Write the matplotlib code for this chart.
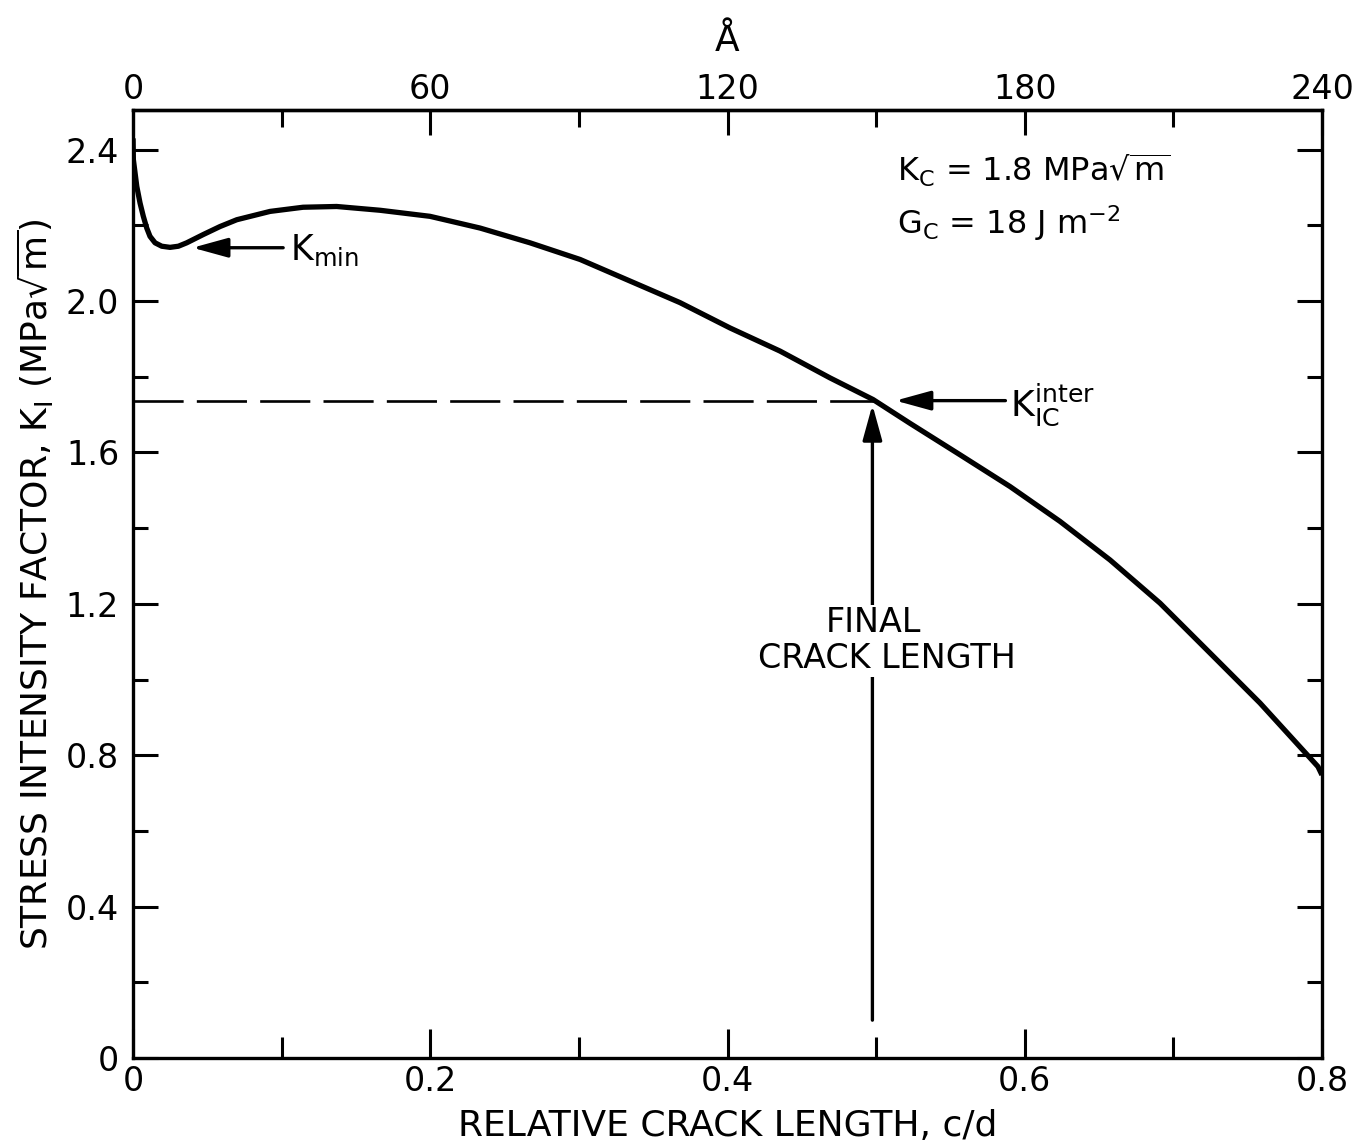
import matplotlib
matplotlib.use("Agg")
import matplotlib.pyplot as plt

# Stress intensity factor vs relative crack length
crack_len = [0.0, 0.0002, 0.0025, 0.0047, 0.0069, 0.0092, 0.0114, 0.0148,
             0.0193, 0.0249, 0.0305, 0.0361, 0.0473, 0.0585, 0.0698, 0.0922,
             0.1144, 0.137, 0.1662, 0.1998, 0.2335, 0.2671, 0.3008, 0.3344,
             0.3680, 0.4017, 0.4353, 0.4690, 0.4979, 0.5228, 0.5564, 0.5901,
             0.6237, 0.6574, 0.6910, 0.7247, 0.7583, 0.7973, 0.800]
k_values = [2.43, 2.374, 2.303, 2.259, 2.224, 2.193, 2.171, 2.154,
            2.145, 2.142, 2.145, 2.154, 2.176, 2.197, 2.215, 2.237,
            2.248, 2.250, 2.240, 2.224, 2.193, 2.154, 2.110, 2.053,
            1.996, 1.929, 1.868, 1.797, 1.740, 1.677, 1.594, 1.510,
            1.418, 1.316, 1.202, 1.070, 0.938, 0.770, 0.748]

k_ic_inter = 1.737      # interfacial toughness level
final_crack = 0.5       # final relative crack length
k_min_point = (0.040, 2.141)

x_major = [0.0, 0.2, 0.4, 0.6, 0.8]
x_minor = [0.1, 0.3, 0.5, 0.7]
y_major = [0.0, 0.4, 0.8, 1.2, 1.6, 2.0, 2.4]
y_minor = [0.2, 0.6, 1.0, 1.4, 1.8, 2.2]
ang_major = [0, 60, 120, 180, 240]
ang_minor = [30, 90, 150, 210]
ang_per_cd = 300.0

plt.rcParams['font.family'] = ['DejaVu Sans']
plt.rcParams['mathtext.default'] = 'regular'

fig = plt.figure(figsize=(13.62, 11.48), dpi=100)
ax = fig.add_axes([0.0977, 0.0784, 0.8729, 0.8258])

ax.plot(crack_len, k_values, color='black', lw=3.8, solid_capstyle='butt',
        solid_joinstyle='round', zorder=3)

# dashed K_IC level up to the final crack length
ax.plot([0, final_crack], [k_ic_inter, k_ic_inter], color='black', lw=1.9,
        dashes=(19, 5), zorder=2)

ax.set_xlim(0, 0.8)
ax.set_ylim(0, 2.505)

for side in ax.spines.values():
    side.set_linewidth(2.4)

ax.set_xticks(x_major)
ax.set_xticklabels(['0', '0.2', '0.4', '0.6', '0.8'])
ax.set_xticks(x_minor, minor=True)
ax.set_yticks(y_major)
ax.set_yticklabels(['0', '0.4', '0.8', '1.2', '1.6', '2.0', '2.4'])
ax.set_yticks(y_minor, minor=True)

ax.tick_params(axis='x', which='both', direction='in', top=False, bottom=True,
               width=2.2, labelsize=24, pad=5)
ax.tick_params(axis='x', which='major', length=21)
ax.tick_params(axis='x', which='minor', length=15)
ax.tick_params(axis='y', which='both', direction='in', left=True, right=True,
               width=2.2, labelsize=24, pad=10)
ax.tick_params(axis='y', which='major', length=18)
ax.tick_params(axis='y', which='minor', length=11)

ax.set_xlabel('RELATIVE CRACK LENGTH, c/d', fontsize=26, labelpad=8)
ax.set_ylabel(r'STRESS INTENSITY FACTOR, K$_I$ (MPa$\sqrt{m}$)', fontsize=26, labelpad=7)

top = ax.secondary_xaxis('top', functions=(lambda v: v * ang_per_cd,
                                            lambda a: a / ang_per_cd))
top.set_xticks(ang_major)
top.set_xticklabels([str(a) for a in ang_major])
top.set_xticks(ang_minor, minor=True)
top.tick_params(which='both', direction='in', width=2.2, labelsize=24, pad=3)
top.tick_params(which='major', length=18)
top.tick_params(which='minor', length=12)
top.spines['top'].set_linewidth(2.4)
top.set_xlabel('Å', fontsize=26, labelpad=16)

arrow = dict(arrowstyle='-|>,head_length=0.8,head_width=0.22', lw=2.4,
             color='black', mutation_scale=27, shrinkA=0, shrinkB=0)

# K_min marker
ax.annotate('', xy=k_min_point, xytext=(0.101, k_min_point[1]),
            arrowprops=arrow, zorder=4)
ax.text(0.1055, k_min_point[1] - 0.005, r'K$_{min}$', fontsize=25,
        ha='left', va='center')

# K_IC^inter marker
ax.annotate('', xy=(0.513, k_ic_inter), xytext=(0.587, k_ic_inter),
            arrowprops=arrow, zorder=4)
ax.text(0.590, k_ic_inter - 0.01, r'K$_{IC}^{inter}$', fontsize=26,
        ha='left', va='center')

# final crack length arrow
ax.annotate('', xy=(final_crack - 0.0025, 1.726), xytext=(final_crack - 0.0025, 0.10),
            arrowprops=arrow, zorder=4)
ax.text(0.4985, 1.15, 'FINAL', fontsize=24, ha='center', va='center', zorder=5,
        bbox=dict(facecolor='white', edgecolor='none', pad=1))
ax.text(0.5075, 1.055, 'CRACK LENGTH', fontsize=24, ha='center', va='center', zorder=5,
        bbox=dict(facecolor='white', edgecolor='none', pad=1))

# material constants
ax.text(0.514, 2.345, r'K$_C$ = 1.8 MPa$\sqrt{m}$', fontsize=23, ha='left', va='center')
ax.text(0.514, 2.205, r'G$_C$ = 18 J m$^{-2}$', fontsize=23, ha='left', va='center')

fig.savefig('out.png', dpi=100)
